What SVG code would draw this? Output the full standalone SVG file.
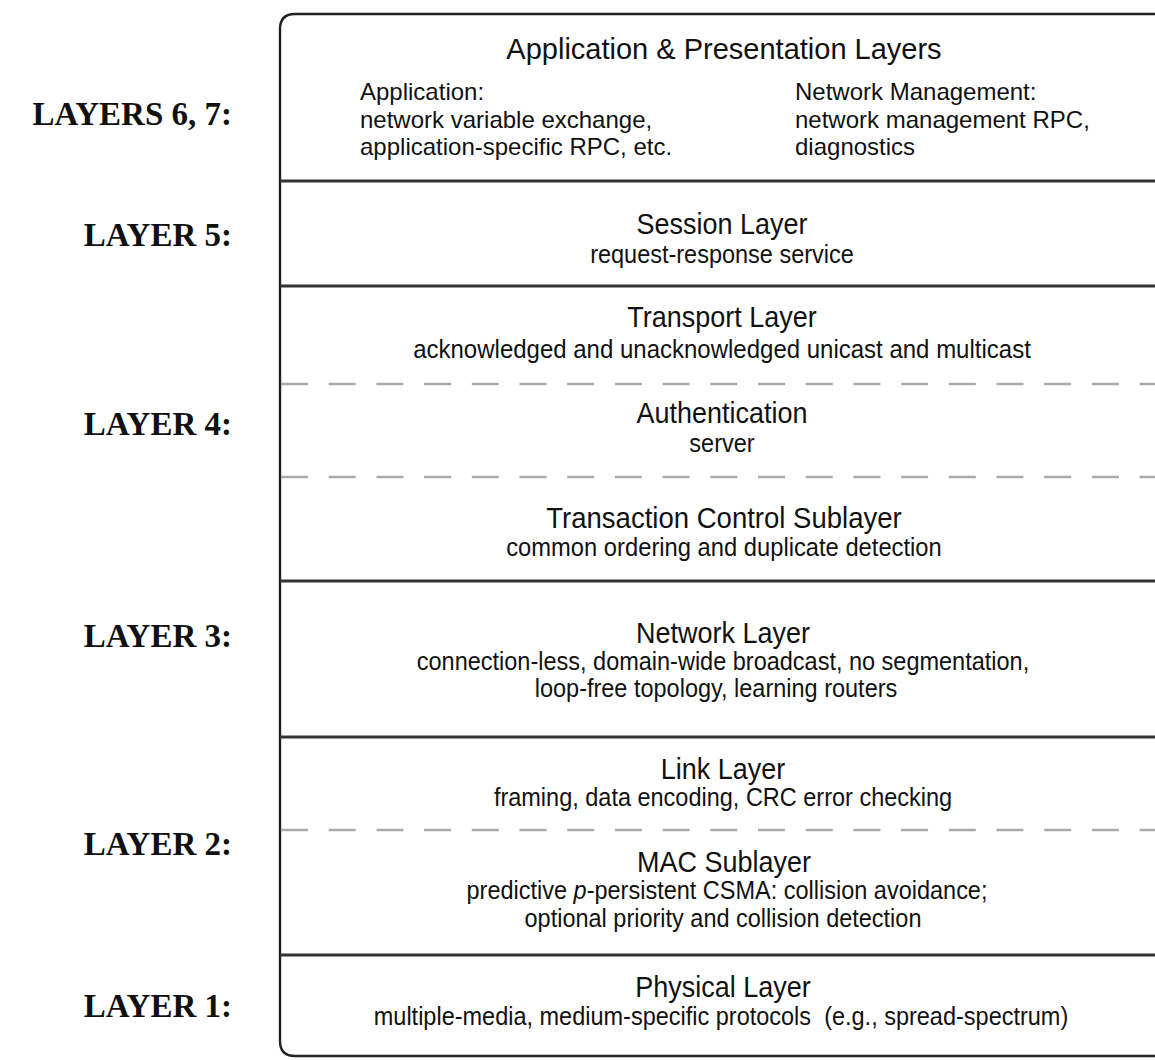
<svg xmlns="http://www.w3.org/2000/svg" width="1155" height="1060" viewBox="0 0 1155 1060">
  <style>
    .frame { fill: #ffffff; stroke: #222222; stroke-width: 2.4; }
    .rule { stroke: #333333; stroke-width: 2.8; fill: none; }
    .dash { stroke: #aaaaaa; stroke-width: 2.6; stroke-dasharray: 27 20.7; fill: none; }
    .lbl { font-family: "Liberation Serif", "Times New Roman", serif; font-weight: bold; font-size: 33px; fill: #111111; text-anchor: end; }
    .head { font-family: "Liberation Sans", Arial, sans-serif; font-size: 29px; fill: #111111; text-anchor: middle; }
    .ttl { font-family: "Liberation Sans", Arial, sans-serif; font-size: 29px; fill: #111111; text-anchor: middle; }
    .sub { font-family: "Liberation Sans", Arial, sans-serif; font-size: 25px; fill: #111111; text-anchor: middle; }
    .sl { font-family: "Liberation Sans", Arial, sans-serif; font-size: 24px; fill: #111111; }
  </style>

  <rect width="1155" height="1060" fill="#ffffff"/>

  <!-- outer frame: rounded on the left, running off the right edge -->
  <path class="frame" d="M1170,14 L295,14 Q280,14 280,29 L280,1041 Q280,1056 295,1056 L1170,1056"/>

  <!-- layer separators -->
  <g id="separators">
    <line class="rule" x1="280" y1="181" x2="1160" y2="181"/>
    <line class="rule" x1="280" y1="286" x2="1160" y2="286"/>
    <line class="dash" x1="281" y1="384" x2="1160" y2="384"/>
    <line class="dash" x1="281" y1="477" x2="1160" y2="477"/>
    <line class="rule" x1="280" y1="581" x2="1160" y2="581"/>
    <line class="rule" x1="280" y1="737" x2="1160" y2="737"/>
    <line class="dash" x1="281" y1="830" x2="1160" y2="830"/>
    <line class="rule" x1="280" y1="955" x2="1160" y2="955"/>
  </g>

  <!-- layer number labels -->
  <g id="labels">
    <text class="lbl" x="232" y="125">LAYERS 6, 7:</text>
    <text class="lbl" x="232" y="246">LAYER 5:</text>
    <text class="lbl" x="232" y="435">LAYER 4:</text>
    <text class="lbl" x="232" y="647">LAYER 3:</text>
    <text class="lbl" x="232" y="855">LAYER 2:</text>
    <text class="lbl" x="232" y="1017">LAYER 1:</text>
  </g>

  <g id="application">
    <text class="head" x="724" y="59">Application &amp; Presentation Layers</text>
    <text class="sl" x="360" y="100">Application:</text>
    <text class="sl" x="360" y="128">network variable exchange,</text>
    <text class="sl" x="360" y="155">application-specific RPC, etc.</text>
    <text class="sl" x="795" y="100">Network Management:</text>
    <text class="sl" x="795" y="128">network management RPC,</text>
    <text class="sl" x="795" y="155">diagnostics</text>
  </g>

  <!-- the lower bands use a slightly narrowed face -->
  <g id="session">
    <text class="ttl" transform="translate(722 234) scale(0.93 1)">Session Layer</text>
    <text class="sub" transform="translate(722 263) scale(0.94 1)">request-response service</text>
  </g>

  <g id="transport">
    <text class="ttl" transform="translate(722 327) scale(0.93 1)">Transport Layer</text>
    <text class="sub" transform="translate(722 358) scale(0.96 1)">acknowledged and unacknowledged unicast and multicast</text>
  </g>

  <g id="authentication">
    <text class="ttl" transform="translate(722 423) scale(0.93 1)">Authentication</text>
    <text class="sub" transform="translate(722 452) scale(0.94 1)">server</text>
  </g>

  <g id="transaction">
    <text class="ttl" transform="translate(724 528) scale(0.95 1)">Transaction Control Sublayer</text>
    <text class="sub" transform="translate(724 556) scale(0.95 1)">common ordering and duplicate detection</text>
  </g>

  <g id="network">
    <text class="ttl" transform="translate(723 643) scale(0.93 1)">Network Layer</text>
    <text class="sub" transform="translate(723 670) scale(0.94 1)">connection-less, domain-wide broadcast, no segmentation,</text>
    <text class="sub" transform="translate(716 697) scale(0.94 1)">loop-free topology, learning routers</text>
  </g>

  <g id="link">
    <text class="ttl" transform="translate(723 779) scale(0.93 1)">Link Layer</text>
    <text class="sub" transform="translate(723 806) scale(0.94 1)">framing, data encoding, CRC error checking</text>
  </g>

  <g id="mac">
    <text class="ttl" transform="translate(724 872) scale(0.93 1)">MAC Sublayer</text>
    <text class="sub" transform="translate(727 899) scale(0.94 1)">predictive <tspan font-style="italic">p</tspan>-persistent CSMA: collision avoidance;</text>
    <text class="sub" transform="translate(723 927) scale(0.94 1)">optional priority and collision detection</text>
  </g>

  <g id="physical">
    <text class="ttl" transform="translate(723 997) scale(0.93 1)">Physical Layer</text>
    <text class="sub" transform="translate(721 1025) scale(0.94 1)" xml:space="preserve">multiple-media, medium-specific protocols  (e.g., spread-spectrum)</text>
  </g>
</svg>
